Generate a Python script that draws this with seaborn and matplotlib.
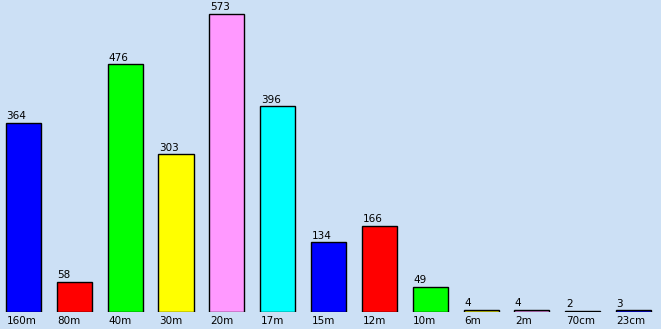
import matplotlib
matplotlib.use("Agg")
import matplotlib.pyplot as plt
import seaborn as sns
import pandas as pd
import matplotlib.transforms as mtransforms

bands = ["160m", "80m", "40m", "30m", "20m", "17m", "15m", "12m", "10m", "6m", "2m", "70cm", "23cm"]
counts = [364, 58, 476, 303, 573, 396, 134, 166, 49, 4, 4, 2, 3]
colors = ["#0000ff", "#ff0000", "#00ff00", "#ffff00", "#ff99ff", "#00ffff",
          "#0000ff", "#ff0000", "#00ff00", "#ffff00", "#ff99ff", "#00ffff", "#0000ff"]

bg = "#cce0f5"
sns.set_style("white")
plt.rcParams["font.family"] = ["DejaVu Sans"]

fig = plt.figure(figsize=(6.61, 3.29), dpi=100, facecolor=bg)
ax = fig.add_axes([0, 17 / 329, 1, 1 - 17 / 329])
ax.set_facecolor(bg)

df = pd.DataFrame({"band": bands, "count": counts})
bw = 0.69
sns.barplot(data=df, x="band", y="count", hue="band", palette=colors, legend=False,
            dodge=False, width=bw, edgecolor="black", linewidth=1.0, saturation=1, ax=ax)

ax.set_xlim(-0.462, 12.538)
ax.set_ylim(0, 600)
for s in ax.spines.values():
    s.set_visible(False)
ax.set_xticks([])
ax.set_yticks([])
ax.set_xlabel("")
ax.set_ylabel("")

trans = mtransforms.blended_transform_factory(ax.transData, fig.transFigure)
for i, (b, c) in enumerate(zip(bands, counts)):
    ax.text(i - bw / 2 + 0.01, c + 3, str(c), ha="left", va="bottom", fontsize=7.5, color="black")
    ax.text(i - bw / 2 + 0.01, 3 / 329, b, ha="left", va="bottom", fontsize=7.5,
            color="black", transform=trans)

fig.savefig("out.png", dpi=100, facecolor=bg)
